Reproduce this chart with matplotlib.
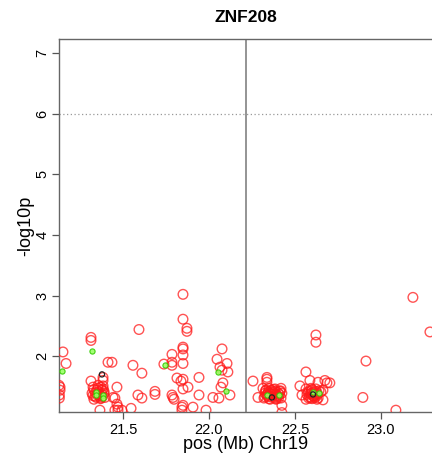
import matplotlib
matplotlib.use("Agg")
import matplotlib.pyplot as plt
import numpy as np

plt.rcParams["font.family"] = ["Liberation Sans", "DejaVu Sans"]

# SNP positions (Mb) and -log10 p
red_pos = [21.151, 21.169, 21.128, 21.134, 21.134, 21.13, 21.13, 21.314, 21.314, 21.413,
           21.436, 21.558, 21.610, 21.384, 21.384, 21.314, 21.465, 21.326, 21.355, 21.384,
           21.378, 21.320, 21.337, 21.360, 21.390, 21.372, 21.331, 21.395, 21.349, 21.442,
           21.453, 21.587, 21.610, 21.465, 21.471, 21.471, 21.366, 21.453, 21.494, 21.547,
           21.593, 21.686, 21.686, 21.738, 21.849, 21.849, 21.872, 21.872, 21.849, 21.849,
           21.849, 21.785, 21.785, 21.785, 21.849, 21.814, 21.849, 21.837, 21.878, 21.849,
           21.785, 21.791, 21.797, 21.942, 21.942, 22.023, 22.058, 21.849, 21.843, 21.843,
           21.907, 21.983, 22.076, 22.047, 22.105, 22.064, 22.076, 22.110, 22.081, 22.070,
           22.122, 22.256, 22.285, 22.337, 22.337, 22.337, 22.314, 22.326, 22.320, 22.349,
           22.355, 22.355, 22.384, 22.390, 22.390, 22.419, 22.424, 22.419, 22.343, 22.401,
           22.372, 22.331, 22.413, 22.424, 22.424, 22.622, 22.622, 22.564, 22.529, 22.541,
           22.587, 22.634, 22.674, 22.686, 22.663, 22.663, 22.564, 22.570, 22.564, 22.593,
           22.599, 22.593, 22.622, 22.628, 22.628, 22.651, 22.610, 22.581, 23.186, 23.285,
           22.913, 22.895, 23.087, 22.703,
           # dense cluster near 22.37
           22.325, 22.335, 22.345, 22.360, 22.365, 22.370, 22.380, 22.385, 22.395, 22.400,
           22.405, 22.410, 22.330, 22.350, 22.375, 22.390, 22.360, 22.340, 22.380, 22.415,
           # dense cluster near 22.6
           22.585, 22.590, 22.595, 22.600, 22.605, 22.610, 22.615, 22.620, 22.625, 22.630,
           22.575, 22.580, 22.635, 22.600, 22.615, 22.640,
           # dense cluster near 21.36
           21.330, 21.340, 21.345, 21.355, 21.360, 21.365, 21.370, 21.375, 21.380, 21.385,
           21.390, 21.325, 21.350, 21.370]
red_logp = [2.07, 1.88, 1.52, 1.49, 1.44, 1.36, 1.31, 2.31, 2.26, 1.90,
            1.90, 1.85, 1.72, 1.65, 1.60, 1.59, 1.49, 1.49, 1.52, 1.51,
            1.44, 1.39, 1.34, 1.37, 1.39, 1.31, 1.29, 1.32, 1.44, 1.32,
            1.31, 1.36, 1.31, 1.21, 1.16, 1.11, 1.11, 1.11, 1.11, 1.14,
            2.44, 1.42, 1.37, 1.87, 3.02, 2.61, 2.46, 2.41, 2.15, 2.12,
            2.02, 2.03, 1.90, 1.85, 1.88, 1.64, 1.62, 1.59, 1.49, 1.46,
            1.36, 1.32, 1.29, 1.65, 1.36, 1.32, 1.31, 1.19, 1.16, 1.11,
            1.16, 1.11, 2.12, 1.95, 1.88, 1.82, 1.77, 1.74, 1.56, 1.49,
            1.36, 1.59, 1.32, 1.65, 1.62, 1.57, 1.47, 1.39, 1.31, 1.47,
            1.39, 1.29, 1.46, 1.37, 1.29, 1.47, 1.39, 1.31, 1.34, 1.34,
            1.42, 1.44, 1.42, 1.19, 1.07, 2.35, 2.23, 1.74, 1.51, 1.36,
            1.60, 1.57, 1.60, 1.56, 1.44, 1.28, 1.46, 1.37, 1.29, 1.47,
            1.39, 1.31, 1.46, 1.37, 1.29, 1.41, 1.34, 1.42, 2.97, 2.40,
            1.92, 1.32, 1.11, 1.56,
            1.33, 1.36, 1.41, 1.33, 1.37, 1.40, 1.32, 1.42, 1.35, 1.40,
            1.31, 1.37, 1.43, 1.30, 1.45, 1.30, 1.44, 1.38, 1.38, 1.43,
            1.33, 1.38, 1.43, 1.30, 1.35, 1.40, 1.32, 1.42, 1.34, 1.39,
            1.40, 1.31, 1.31, 1.45, 1.37, 1.43,
            1.45, 1.40, 1.32, 1.47, 1.41, 1.35, 1.49, 1.38, 1.33, 1.46,
            1.42, 1.35, 1.37, 1.30]

green_pos = [21.145, 21.320, 21.343, 21.343, 21.384, 21.384, 21.744, 22.052, 22.099,
             22.337, 22.407, 22.605, 22.640]
green_logp = [1.75, 2.08, 1.41, 1.36, 1.36, 1.31, 1.85, 1.74, 1.42,
              1.36, 1.36, 1.41, 1.39]

black_pos = [21.378, 22.366, 22.605]
black_logp = [1.70, 1.32, 1.37]

gene_start = 22.215
threshold = 6

fig = plt.figure(figsize=(4.32, 4.57), dpi=100)
ax = fig.add_axes([59 / 432, 45 / 457, 1 - 59 / 432, 373 / 457])

ax.scatter(red_pos, red_logp, s=48, facecolors="none", edgecolors="#ff1a1a",
           linewidths=1.0, alpha=0.75, zorder=3)
ax.scatter(green_pos, green_logp, s=14, facecolors="#99ff66", edgecolors="#33cc00",
           linewidths=0.8, alpha=0.9, zorder=4)
ax.scatter(black_pos, black_logp, s=14, facecolors="none", edgecolors="#222222",
           linewidths=0.9, zorder=5)

ax.axvline(gene_start, color="#777777", lw=1.1, zorder=2)
ax.axhline(threshold, color="#999999", lw=0.9, ls=(0, (1, 2)), zorder=1)

ax.set_xlim(21.128, 23.297)
ax.set_ylim(1.08, 7.23)
ax.set_xticks([21.5, 22.0, 22.5, 23.0])
ax.set_xticklabels(["21.5", "22.0", "22.5", "23.0"])
ax.set_yticks([2, 3, 4, 5, 6, 7])
for lab in ax.get_yticklabels():
    lab.set_rotation(90)
    lab.set_va("center")
ax.tick_params(labelsize=10.5, length=5, width=0.9, color="#555555", pad=3)
ax.tick_params(axis="y", pad=2)

for side in ["left", "bottom", "top"]:
    ax.spines[side].set_color("#666666")
    ax.spines[side].set_linewidth(1.0)
ax.spines["right"].set_visible(False)

ax.set_xlabel("pos (Mb) Chr19", fontsize=13, labelpad=-1)
ax.set_ylabel("-log10p", fontsize=13, labelpad=1)
ax.set_title("ZNF208", fontsize=12.5, fontweight="bold", pad=12)

fig.savefig("out.png", dpi=100)
